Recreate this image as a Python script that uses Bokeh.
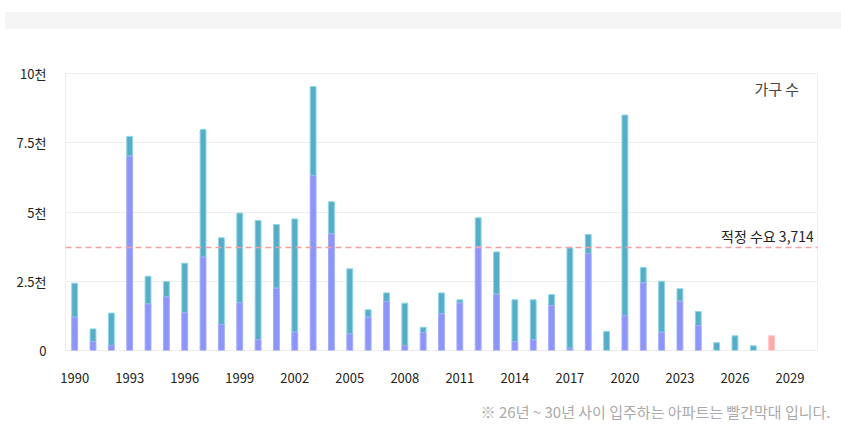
import math
from bokeh.plotting import figure
from bokeh.models import ColumnDataSource, FixedTicker, Span, Label, Title, Div, Spacer
from bokeh.layouts import column
from bokeh.embed import file_html
from bokeh.resources import INLINE

years = list(range(1990, 2030))
# purple (lower) part and total height of each bar, households
lower = [1200, 320, 180, 7020, 1680, 1930, 1360, 3370, 940, 1720,
         390, 2250, 660, 6310, 4210, 600, 1200, 1770, 180, 650,
         1320, 1720, 3750, 2030, 320, 390, 1620, 80, 3490, 0,
         1260, 2440, 660, 1780, 900, 0, 0, 0, 0, 0]
total = [2430, 780, 1350, 7730, 2680, 2490, 3150, 7980, 4070, 4960,
         4690, 4550, 4750, 9530, 5370, 2950, 1470, 2080, 1710, 840,
         2080, 1830, 4790, 3560, 1830, 1830, 2020, 3710, 4190, 690,
         8500, 3000, 2500, 2230, 1410, 280, 530, 170, 0, 0]
future = [0] * 38 + [530, 0]   # 2026~2030 red bars
demand = 3714
y_ticks = [0, 2500, 5000, 7500, 10000]
y_tick_labels = ["0", "2.5천", "5천", "7.5천", "10천"]
x_ticks = list(range(1990, 2030, 3))

FONT = "Noto Sans CJK KR"


def nz(vals):
    return [v if v else math.nan for v in vals]


src = ColumnDataSource(dict(year=years, lower=nz(lower), lower0=lower,
                            total=nz(total), future=nz(future)))

p = figure(width=841, height=400, x_range=(1989.5, 2030.5), y_range=(0, 10000),
           output_backend="svg", toolbar_location=None,
           min_border_left=65, min_border_right=24, min_border_top=39, min_border_bottom=10)

p.vbar(x="year", bottom="lower0", top="total", width=0.32, source=src,
       fill_color="#55adc7", line_color="#8fd6e6", line_width=1)
p.vbar(x="year", bottom=0, top="lower", width=0.32, source=src,
       fill_color="#8d96f8", line_color="#a4acfa", line_width=1)
p.vbar(x="year", bottom=0, top="future", width=0.32, source=src,
       fill_color="#ffaaaa", line_color="#ffc4c4", line_width=1)

p.add_layout(Span(location=demand, dimension="width", line_color="#f4a0a0",
                  line_dash="6 4", line_width=1.5))
p.add_layout(Label(x=2030.3, y=4150, text="적정 수요 3,714", text_align="right",
                   text_baseline="middle", text_font=FONT, text_font_size="14px",
                   text_color="#222222"))
p.add_layout(Label(x=2029.5, y=9460, text="가구 수", text_align="right",
                   text_baseline="middle", text_font=FONT, text_font_size="15px",
                   text_color="#444444"))

p.yaxis.ticker = FixedTicker(ticks=y_ticks)
p.yaxis.major_label_overrides = {t: l for t, l in zip(y_ticks, y_tick_labels)}
p.xaxis.ticker = FixedTicker(ticks=x_ticks)
for ax in (p.xaxis, p.yaxis):
    ax.axis_line_color = None
    ax.major_tick_line_color = None
    ax.minor_tick_line_color = None
    ax.major_label_text_font = FONT
    ax.major_label_text_font_size = "13px"
    ax.major_label_text_color = "#222222"
p.yaxis.major_label_standoff = 13
p.xaxis.major_label_standoff = 16

p.xgrid.grid_line_color = None
p.ygrid.grid_line_color = "#eeeeee"
p.outline_line_color = "#eeeeee"
p.background_fill_color = "white"

p.add_layout(Title(text="※ 26년 ~ 30년 사이 입주하는 아파트는 빨간막대 입니다.", align="right",
                   text_font=FONT, text_font_size="15px", text_color="#aaaaaa",
                   text_font_style="normal", standoff=26, offset=-13), "below")

band = Div(text="", width=841, height=17, styles={"background-color": "#f5f5f5"})

layout = column(Spacer(width=841, height=7), band, p, spacing=0)
open("out.html", "w").write(file_html(layout, INLINE))
